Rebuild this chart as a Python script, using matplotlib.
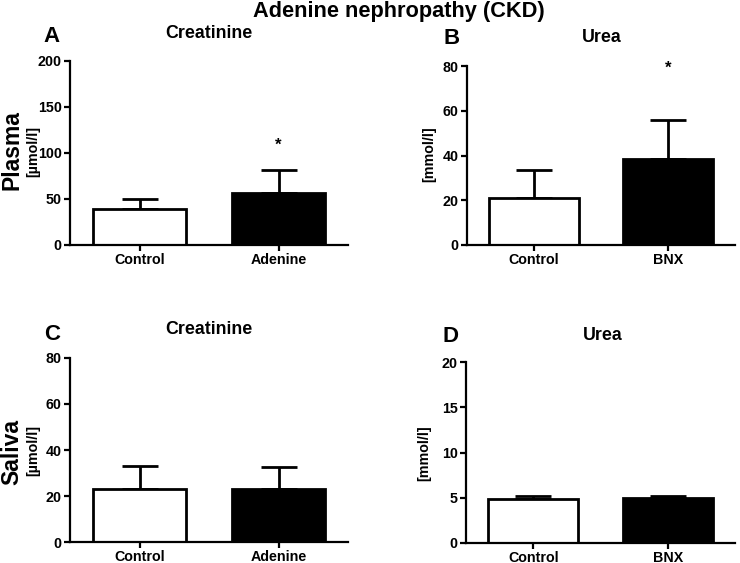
import matplotlib.pyplot as plt

plt.rcParams['font.family'] = ['Liberation Sans', 'DejaVu Sans']
plt.rcParams['font.weight'] = 'bold'

W, H = 740, 563

# values (mean, mean + error)
groups_ab = ['Control', 'Adenine']
groups_bnx = ['Control', 'BNX']

plasma_creat = [39, 57]
plasma_creat_err = [11, 24]
plasma_urea = [21, 38.5]
plasma_urea_err = [12.5, 17.5]
saliva_creat = [23, 23]
saliva_creat_err = [10, 9.8]
saliva_urea = [4.85, 5.0]
saliva_urea_err = [0.35, 0.15]

star_a = 108
star_b = 79

fig = plt.figure(figsize=(W / 100, H / 100), dpi=100)


def px_axes(x0, y_top, x1, y_bot):
    return fig.add_axes([x0 / W, 1 - y_bot / H, (x1 - x0) / W, (y_bot - y_top) / H])


def draw_panel(ax, labels, vals, errs, ymax, step):
    pos = [0, 1]
    ax.bar(pos, vals, width=0.67, color=['white', 'black'], edgecolor='black',
           linewidth=2, zorder=2)
    ax.errorbar(pos, vals, yerr=[[0, 0], errs], fmt='none', ecolor='black',
                elinewidth=2, capsize=13, capthick=2, zorder=1)
    ax.set_xlim(-0.5, 1.5)
    ax.set_ylim(0, ymax)
    ax.set_yticks(range(0, ymax + 1, step))
    ax.set_xticks(pos)
    ax.set_xticklabels(labels)
    for s in ['top', 'right']:
        ax.spines[s].set_visible(False)
    for s in ['left', 'bottom']:
        ax.spines[s].set_linewidth(1.6)
    ax.tick_params(axis='both', width=1.6, length=4, labelsize=10.3, pad=2)
    for t in ax.get_xticklabels() + ax.get_yticklabels():
        t.set_fontweight('bold')


axA = px_axes(70, 61, 348, 245)
draw_panel(axA, groups_ab, plasma_creat, plasma_creat_err, 200, 50)
axA.text(1, star_a, '*', ha='center', va='center', fontsize=12, fontweight='bold')

axB = px_axes(467, 66, 735, 245)
draw_panel(axB, groups_bnx, plasma_urea, plasma_urea_err, 80, 20)
axB.text(1, star_b, '*', ha='center', va='center', fontsize=12, fontweight='bold')

axC = px_axes(70, 358, 348, 542)
draw_panel(axC, groups_ab, saliva_creat, saliva_creat_err, 80, 20)

axD = px_axes(466, 362, 735, 543)
draw_panel(axD, groups_bnx, saliva_urea, saliva_urea_err, 20, 5)


def ftext(x, y, s, **kw):
    fig.text(x / W, 1 - y / H, s, ha='center', va='center', fontweight='bold', **kw)


ftext(399, 12, 'Adenine nephropathy (CKD)', fontsize=15.7)

ftext(52, 37, 'A', fontsize=16)
ftext(452, 38, 'B', fontsize=16)
ftext(52, 335, 'C', fontsize=16)
ftext(450, 337, 'D', fontsize=16)

ftext(209, 34, 'Creatinine', fontsize=12.8)
ftext(602, 38, 'Urea', fontsize=12.8)
ftext(209, 330, 'Creatinine', fontsize=12.8)
ftext(603, 335, 'Urea', fontsize=12.8)

ftext(12, 150, 'Plasma', fontsize=16.5, rotation=90)
ftext(33, 152, '[µmol/l]', fontsize=10.3, rotation=90)
ftext(429, 154, '[mmol/l]', fontsize=10.3, rotation=90)
ftext(12, 452, 'Saliva', fontsize=16.5, rotation=90)
ftext(33, 450, '[µmol/l]', fontsize=10.3, rotation=90)
ftext(424, 453, '[mmol/l]', fontsize=10.3, rotation=90)

fig.savefig('out.png', dpi=100)
